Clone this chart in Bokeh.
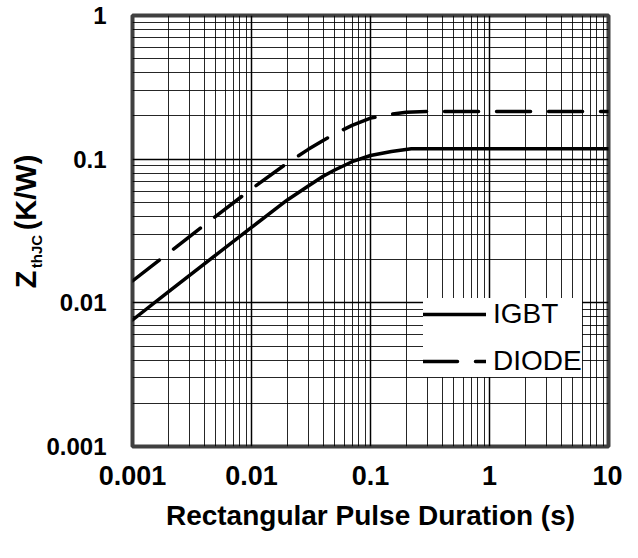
import math
from bokeh.plotting import figure
from bokeh.layouts import row
from bokeh.models import FixedTicker, CustomJSTickFormatter, Label, Legend, LegendItem, Range1d
from bokeh.embed import file_html
from bokeh.resources import INLINE

# ---- data ----
time_igbt = [0.001, 0.002, 0.005, 0.01, 0.02, 0.03, 0.04, 0.05, 0.07, 0.1, 0.15, 0.22, 0.5, 1, 2, 5, 10]
zth_igbt = [0.0076, 0.0119, 0.0215, 0.0335, 0.052, 0.065, 0.076, 0.084, 0.096, 0.106, 0.113, 0.118, 0.118, 0.118, 0.118, 0.118, 0.118]

time_diode = [0.001, 0.002, 0.005, 0.01, 0.02, 0.03, 0.04, 0.05, 0.07, 0.1, 0.15, 0.2, 0.3, 1, 10]
zth_diode = [0.0142, 0.0222, 0.040, 0.062, 0.094, 0.117, 0.135, 0.150, 0.172, 0.193, 0.206, 0.212, 0.215, 0.215, 0.215]

series_names = ["IGBT", "DIODE"]

x_tick_values = [0.001, 0.01, 0.1, 1, 10]
x_tick_labels = ["0.001", "0.01", "0.1", "1", "10"]
y_tick_values = [0.001, 0.01, 0.1, 1]
y_tick_labels = ["0.001", "0.01", "0.1", "1"]

x_title = "Rectangular Pulse Duration (s)"
y_title_main = "Z"
y_title_sub = "thJC"
y_title_unit = "(K/W)"

FONT = "Liberation Sans"

# ---- layout sizes (canvas px) ----
TOTAL_W, TOTAL_H = 622, 542
YT_W = 43                      # strip holding the rotated y title
MAIN_W = TOTAL_W - YT_W
FRAME_L, FRAME_R, FRAME_T, FRAME_B = 130, 608, 15, 446


def minor_ticks(lo_exp, hi_exp):
    out = []
    for e in range(lo_exp, hi_exp):
        for m in range(2, 10):
            out.append(m * 10.0 ** e)
    return out


p = figure(width=MAIN_W, height=TOTAL_H, x_axis_type="log", y_axis_type="log",
           x_range=(0.001, 10), y_range=(0.001, 1),
           output_backend="svg", toolbar_location=None,
           min_border_left=FRAME_L - YT_W, min_border_right=TOTAL_W - FRAME_R,
           min_border_top=FRAME_T, min_border_bottom=TOTAL_H - FRAME_B)

p.background_fill_color = "white"
p.border_fill_color = "white"
p.outline_line_color = "#404040"
p.outline_line_width = 4

p.xaxis.ticker = FixedTicker(ticks=x_tick_values, minor_ticks=minor_ticks(-3, 1))
p.yaxis.ticker = FixedTicker(ticks=y_tick_values, minor_ticks=minor_ticks(-3, 0))

fmt_code = """
const i = vals.findIndex(v => Math.abs(Math.log10(v) - Math.log10(tick)) < 1e-6);
return i >= 0 ? labs[i] : "";
"""
p.xaxis.formatter = CustomJSTickFormatter(args=dict(vals=x_tick_values, labs=x_tick_labels), code=fmt_code)
p.yaxis.formatter = CustomJSTickFormatter(args=dict(vals=y_tick_values, labs=y_tick_labels), code=fmt_code)

for ax in (p.xaxis, p.yaxis):
    ax.axis_line_color = None
    ax.major_tick_line_color = None
    ax.minor_tick_line_color = None
    ax.major_tick_in = 0
    ax.major_tick_out = 0
    ax.minor_tick_in = 0
    ax.minor_tick_out = 0
    ax.major_label_text_font = FONT
    ax.major_label_text_font_style = "bold"
    ax.major_label_text_color = "black"
p.xaxis.major_label_text_font_size = "27px"
p.yaxis.major_label_text_font_size = "24px"
p.xaxis.major_label_standoff = 19
p.yaxis.major_label_standoff = 26

p.xaxis.axis_label = x_title
p.xaxis.axis_label_text_font = FONT
p.xaxis.axis_label_text_font_style = "bold"
p.xaxis.axis_label_text_font_size = "28px"
p.xaxis.axis_label_text_color = "black"
p.xaxis.axis_label_standoff = 12

for g in (p.xgrid, p.ygrid):
    g.grid_line_color = "black"
    g.grid_line_width = 1.5
    g.grid_line_alpha = 1
    g.minor_grid_line_color = "black"
    g.minor_grid_line_width = 1
    g.minor_grid_line_alpha = 0.85

r_igbt = p.line(time_igbt, zth_igbt, line_color="black", line_width=3.5, line_cap="round")
r_diode = p.line(time_diode, zth_diode, line_color="black", line_width=3.5,
                 line_dash="34 18", line_cap="round")

legend = Legend(items=[LegendItem(label=series_names[0], renderers=[r_igbt]),
                       LegendItem(label=series_names[1], renderers=[r_diode])],
                location=(291, 69))
legend.background_fill_color = "white"
legend.background_fill_alpha = 1
legend.border_line_color = None
legend.label_text_font = FONT
legend.label_text_font_size = "28px"
legend.label_text_color = "black"
legend.glyph_width = 63
legend.glyph_height = 30
legend.label_height = 30
legend.label_standoff = 7
legend.padding = 22
legend.spacing = 15
legend.margin = 0
p.add_layout(legend, "center")

# ---- strip with the rotated y-axis title; its data units are canvas pixels ----
yfig = figure(width=YT_W, height=TOTAL_H,
              x_range=Range1d(0, YT_W), y_range=Range1d(FRAME_B, FRAME_T),
              output_backend="svg", toolbar_location=None,
              x_axis_location=None, y_axis_location=None,
              min_border_left=0, min_border_right=0,
              min_border_top=FRAME_T, min_border_bottom=TOTAL_H - FRAME_B)
yfig.outline_line_color = None
yfig.xgrid.visible = False
yfig.ygrid.visible = False
yfig.background_fill_color = "white"
yfig.border_fill_color = "white"

# anchors are the centres of the rotated texts
yfig.add_layout(Label(x=25, y=279, text=y_title_main, angle=math.pi / 2,
                      text_font=FONT, text_font_style="bold", text_font_size="29px",
                      text_align="center", text_baseline="middle", text_color="black"))
yfig.add_layout(Label(x=35.5, y=251, text=y_title_sub, angle=math.pi / 2,
                      text_font=FONT, text_font_style="bold", text_font_size="15px",
                      text_align="center", text_baseline="middle", text_color="black"))
yfig.add_layout(Label(x=25, y=192, text=y_title_unit, angle=math.pi / 2,
                      text_font=FONT, text_font_style="bold", text_font_size="29px",
                      text_align="center", text_baseline="middle", text_color="black"))

layout = row(yfig, p, spacing=0)

open("out.html", "w").write(file_html(layout, INLINE))
